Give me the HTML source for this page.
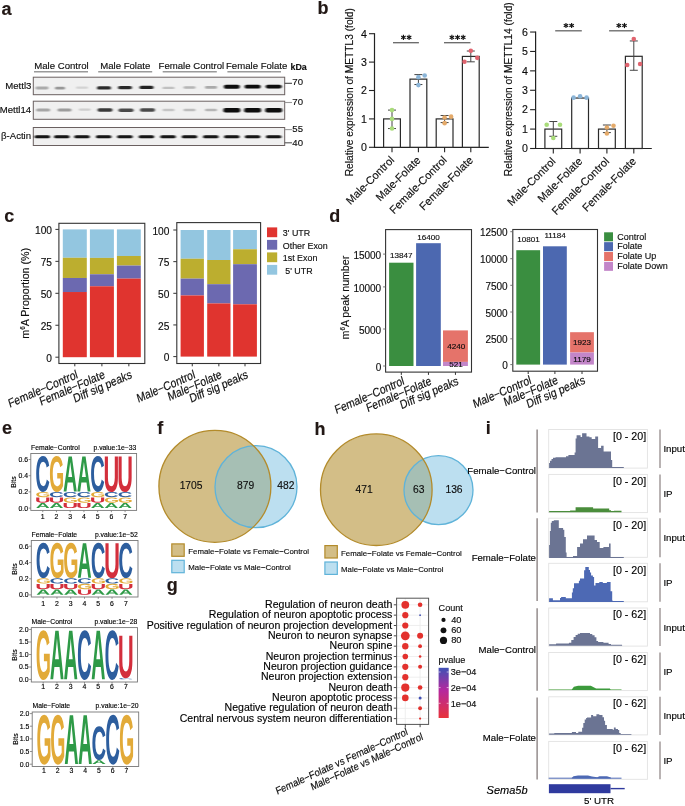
<!DOCTYPE html>
<html><head><meta charset="utf-8"><style>
html,body{margin:0;padding:0;background:#fff;}
svg{display:block;will-change:transform;}
text{font-family:"Liberation Sans", sans-serif;stroke:#000;stroke-width:0.14px;}
</style></head><body>
<svg width="685" height="806" viewBox="0 0 685 806">
<defs><filter id="bl" x="-30%" y="-150%" width="160%" height="400%"><feGaussianBlur stdDeviation="1.0 0.75"/></filter>
<path id="gA" d="M1133 0 1008 360H471L346 0H51L565 1409H913L1425 0ZM739 1192 733 1170Q723 1134 709.0 1088.0Q695 1042 537 582H942L803 987L760 1123Z"/>
<path id="gC" d="M795 212Q1062 212 1166 480L1423 383Q1340 179 1179.5 79.5Q1019 -20 795 -20Q455 -20 269.5 172.5Q84 365 84 711Q84 1058 263.0 1244.0Q442 1430 782 1430Q1030 1430 1186.0 1330.5Q1342 1231 1405 1038L1145 967Q1112 1073 1015.5 1135.5Q919 1198 788 1198Q588 1198 484.5 1074.0Q381 950 381 711Q381 468 487.5 340.0Q594 212 795 212Z"/>
<path id="gG" d="M806 211Q921 211 1029.0 244.5Q1137 278 1196 330V525H852V743H1466V225Q1354 110 1174.5 45.0Q995 -20 798 -20Q454 -20 269.0 170.5Q84 361 84 711Q84 1059 270.0 1244.5Q456 1430 805 1430Q1301 1430 1436 1063L1164 981Q1120 1088 1026.0 1143.0Q932 1198 805 1198Q597 1198 489.0 1072.0Q381 946 381 711Q381 472 492.5 341.5Q604 211 806 211Z"/>
<path id="gU" d="M723 -20Q432 -20 277.5 122.0Q123 264 123 528V1409H418V551Q418 384 497.5 297.5Q577 211 731 211Q889 211 974.0 301.5Q1059 392 1059 561V1409H1354V543Q1354 275 1188.5 127.5Q1023 -20 723 -20Z"/>
<linearGradient id="pv" x1="0" y1="0" x2="0" y2="1"><stop offset="0" stop-color="#3f51b5"/><stop offset="0.45" stop-color="#b5289e"/><stop offset="1" stop-color="#e8323a"/></linearGradient></defs>
<rect width="685" height="806" fill="#fff"/>
<text x="1.5" y="15" font-size="18" text-anchor="start" font-weight="bold" fill="#231815">a</text>
<text x="317.5" y="14.3" font-size="18" text-anchor="start" font-weight="bold" fill="#231815">b</text>
<text x="4.3" y="222.2" font-size="18" text-anchor="start" font-weight="bold" fill="#231815">c</text>
<text x="329.3" y="221.8" font-size="18" text-anchor="start" font-weight="bold" fill="#231815">d</text>
<text x="1.9" y="434.3" font-size="18" text-anchor="start" font-weight="bold" fill="#231815">e</text>
<text x="157.2" y="434.2" font-size="18" text-anchor="start" font-weight="bold" fill="#231815">f</text>
<text x="314.6" y="435.4" font-size="18" text-anchor="start" font-weight="bold" fill="#231815">h</text>
<text x="166.8" y="590.5" font-size="18" text-anchor="start" font-weight="bold" fill="#231815">g</text>
<text x="485.7" y="434.2" font-size="18" text-anchor="start" font-weight="bold" fill="#231815">i</text>
<text x="34.3" y="68.7" font-size="9.6" text-anchor="start" fill="#111">Male Control</text>
<line x1="34" y1="71.8" x2="88" y2="71.8" stroke="#9a9a9a" stroke-width="1.5"/>
<text x="100.2" y="68.7" font-size="9.6" text-anchor="start" fill="#111">Male Folate</text>
<line x1="98.2" y1="71.8" x2="152.2" y2="71.8" stroke="#9a9a9a" stroke-width="1.5"/>
<text x="158.6" y="68.7" font-size="9.6" text-anchor="start" fill="#111">Female Control</text>
<line x1="162.7" y1="71.8" x2="216.8" y2="71.8" stroke="#9a9a9a" stroke-width="1.5"/>
<text x="226" y="68.7" font-size="9.6" text-anchor="start" fill="#111">Female Folate</text>
<line x1="227.4" y1="71.8" x2="281" y2="71.8" stroke="#9a9a9a" stroke-width="1.5"/>
<rect x="33.3" y="77.2" width="251.4" height="17.5" fill="#f0f0f0" stroke="#6a6060" stroke-width="1"/>
<rect x="33.3" y="101.2" width="251.4" height="18.1" fill="#f0f0f0" stroke="#6a6060" stroke-width="1"/>
<rect x="33.3" y="127.5" width="251.4" height="18" fill="#f0f0f0" stroke="#6a6060" stroke-width="1"/>
<g filter="url(#bl)">
<rect x="35.5" y="86.6" width="13" height="2.8" rx="1.4" fill="rgb(170,170,170)"/>
<rect x="55" y="86.8" width="10" height="2.8" rx="1.4" fill="rgb(151,151,151)"/>
<rect x="76" y="86.6" width="12" height="2.2" rx="1.1" fill="rgb(211,211,211)"/>
<rect x="97" y="86.3" width="14" height="3.2" rx="1.6" fill="rgb(44,44,44)"/>
<rect x="118" y="86" width="14" height="3.2" rx="1.6" fill="rgb(44,44,44)"/>
<rect x="139.5" y="85.7" width="14" height="3.4" rx="1.7" fill="rgb(33,33,33)"/>
<rect x="162.5" y="86.7" width="12" height="2.4" rx="1.2" fill="rgb(192,192,192)"/>
<rect x="183.5" y="86.2" width="12" height="2.6" rx="1.3" fill="rgb(181,181,181)"/>
<rect x="205" y="86.1" width="12" height="2.6" rx="1.3" fill="rgb(170,170,170)"/>
<rect x="223.8" y="84.75" width="16" height="3.9" rx="1.95" fill="rgb(10,10,10)"/>
<rect x="244.6" y="84.85" width="16" height="3.7" rx="1.85" fill="rgb(10,10,10)"/>
<rect x="265.7" y="84.65" width="16" height="3.9" rx="1.95" fill="rgb(10,10,10)"/>
<rect x="36.2" y="108.5" width="14" height="3" rx="1.5" fill="rgb(165,165,165)"/>
<rect x="57.5" y="108.5" width="14" height="3" rx="1.5" fill="rgb(156,156,156)"/>
<rect x="78.7" y="108.5" width="12" height="2.2" rx="1.1" fill="rgb(206,206,206)"/>
<rect x="97.5" y="108.2" width="15" height="3.6" rx="1.8" fill="rgb(56,56,56)"/>
<rect x="118.5" y="108.5" width="15" height="3.4" rx="1.7" fill="rgb(74,74,74)"/>
<rect x="140" y="108.3" width="15" height="3.4" rx="1.7" fill="rgb(74,74,74)"/>
<rect x="162.5" y="108.8" width="12" height="2.4" rx="1.2" fill="rgb(197,197,197)"/>
<rect x="183.5" y="108.8" width="12" height="2.4" rx="1.2" fill="rgb(188,188,188)"/>
<rect x="205" y="108.7" width="12" height="2.6" rx="1.3" fill="rgb(181,181,181)"/>
<rect x="223.3" y="108" width="17" height="4.4" rx="2" fill="rgb(10,10,10)"/>
<rect x="244.1" y="107.9" width="17" height="4.6" rx="2" fill="rgb(10,10,10)"/>
<rect x="265.2" y="108" width="17" height="4.4" rx="2" fill="rgb(10,10,10)"/>
<rect x="34.55" y="135.25" width="15.5" height="3.1" rx="1.55" fill="rgb(21,21,21)"/>
<rect x="54.05" y="135.25" width="15.5" height="3.1" rx="1.55" fill="rgb(21,21,21)"/>
<rect x="74.25" y="135.25" width="15.5" height="3.1" rx="1.55" fill="rgb(21,21,21)"/>
<rect x="95.95" y="135.25" width="15.5" height="3.1" rx="1.55" fill="rgb(21,21,21)"/>
<rect x="117.15" y="135.25" width="15.5" height="3.1" rx="1.55" fill="rgb(21,21,21)"/>
<rect x="138.65" y="135.25" width="15.5" height="3.1" rx="1.55" fill="rgb(21,21,21)"/>
<rect x="160.25" y="135.25" width="15.5" height="3.1" rx="1.55" fill="rgb(21,21,21)"/>
<rect x="181.75" y="135.25" width="15.5" height="3.1" rx="1.55" fill="rgb(21,21,21)"/>
<rect x="203.05" y="135.25" width="15.5" height="3.1" rx="1.55" fill="rgb(21,21,21)"/>
<rect x="224.05" y="135.25" width="15.5" height="3.1" rx="1.55" fill="rgb(21,21,21)"/>
<rect x="244.85" y="135.25" width="15.5" height="3.1" rx="1.55" fill="rgb(21,21,21)"/>
<rect x="265.95" y="135.25" width="15.5" height="3.1" rx="1.55" fill="rgb(21,21,21)"/>
</g>
<text x="31.4" y="88.9" font-size="9.6" text-anchor="end" fill="#111">Mettl3</text>
<text x="31.1" y="113.4" font-size="9.6" text-anchor="end" fill="#111">Mettl14</text>
<text x="31.1" y="139.4" font-size="9.6" text-anchor="end" fill="#111">β-Actin</text>
<text x="290.5" y="69.6" font-size="8.9" text-anchor="start" font-weight="bold" fill="#111">kDa</text>
<line x1="284.7" y1="83.3" x2="292" y2="83.3" stroke="#444" stroke-width="1.1"/>
<text x="292.3" y="85.2" font-size="9.6" text-anchor="start" fill="#111">70</text>
<line x1="284.7" y1="102.5" x2="292" y2="102.5" stroke="#999" stroke-width="1.1"/>
<text x="292.3" y="105.2" font-size="9.6" text-anchor="start" fill="#111">70</text>
<line x1="284.7" y1="129.6" x2="292" y2="129.6" stroke="#999" stroke-width="1.1"/>
<text x="292.3" y="132.2" font-size="9.6" text-anchor="start" fill="#111">55</text>
<line x1="284.7" y1="142.8" x2="292" y2="142.8" stroke="#555" stroke-width="1.1"/>
<text x="292.3" y="145.5" font-size="9.6" text-anchor="start" fill="#111">40</text>
<line x1="374.5" y1="33.2" x2="374.5" y2="147.8" stroke="#222" stroke-width="1.2"/>
<line x1="373.9" y1="147.3" x2="488.8" y2="147.3" stroke="#222" stroke-width="1.2"/>
<line x1="369" y1="147.3" x2="374.5" y2="147.3" stroke="#222" stroke-width="1.1"/>
<text x="366.8" y="151.1" font-size="10.6" text-anchor="end" fill="#111">0</text>
<line x1="369" y1="118.9" x2="374.5" y2="118.9" stroke="#222" stroke-width="1.1"/>
<text x="366.8" y="122.7" font-size="10.6" text-anchor="end" fill="#111">1</text>
<line x1="369" y1="90.5" x2="374.5" y2="90.5" stroke="#222" stroke-width="1.1"/>
<text x="366.8" y="94.3" font-size="10.6" text-anchor="end" fill="#111">2</text>
<line x1="369" y1="62.1" x2="374.5" y2="62.1" stroke="#222" stroke-width="1.1"/>
<text x="366.8" y="65.9" font-size="10.6" text-anchor="end" fill="#111">3</text>
<line x1="369" y1="33.7" x2="374.5" y2="33.7" stroke="#222" stroke-width="1.1"/>
<text x="366.8" y="37.5" font-size="10.6" text-anchor="end" fill="#111">4</text>
<rect x="383.6" y="118.9" width="16.8" height="28.4" fill="#fff" stroke="#2a2a2a" stroke-width="1.2"/>
<line x1="392" y1="147.3" x2="392" y2="152.3" stroke="#222" stroke-width="1.1"/>
<rect x="410" y="79.14" width="16.8" height="68.16" fill="#fff" stroke="#2a2a2a" stroke-width="1.2"/>
<line x1="418.4" y1="147.3" x2="418.4" y2="152.3" stroke="#222" stroke-width="1.1"/>
<rect x="436.2" y="118.9" width="16.8" height="28.4" fill="#fff" stroke="#2a2a2a" stroke-width="1.2"/>
<line x1="444.6" y1="147.3" x2="444.6" y2="152.3" stroke="#222" stroke-width="1.1"/>
<rect x="462.4" y="56.42" width="16.8" height="90.88" fill="#fff" stroke="#2a2a2a" stroke-width="1.2"/>
<line x1="470.8" y1="147.3" x2="470.8" y2="152.3" stroke="#222" stroke-width="1.1"/>
<line x1="392" y1="128.556" x2="392" y2="110.096" stroke="#444" stroke-width="1"/>
<line x1="388" y1="128.556" x2="396" y2="128.556" stroke="#444" stroke-width="1"/>
<line x1="388" y1="110.096" x2="396" y2="110.096" stroke="#444" stroke-width="1"/>
<circle cx="392" cy="110.096" r="2.3" fill="#a9dc7a"/>
<circle cx="392" cy="118.9" r="2.3" fill="#a9dc7a"/>
<circle cx="392" cy="128.556" r="2.3" fill="#a9dc7a"/>
<line x1="418.4" y1="84.536" x2="418.4" y2="74.596" stroke="#444" stroke-width="1"/>
<line x1="414.4" y1="84.536" x2="422.4" y2="84.536" stroke="#444" stroke-width="1"/>
<line x1="414.4" y1="74.596" x2="422.4" y2="74.596" stroke="#444" stroke-width="1"/>
<circle cx="418.4" cy="77.152" r="2.3" fill="#8bb5d8"/>
<circle cx="424.7" cy="75.448" r="2.3" fill="#8bb5d8"/>
<circle cx="418.4" cy="85.104" r="2.3" fill="#8bb5d8"/>
<line x1="444.6" y1="122.592" x2="444.6" y2="115.492" stroke="#444" stroke-width="1"/>
<line x1="440.6" y1="122.592" x2="448.6" y2="122.592" stroke="#444" stroke-width="1"/>
<line x1="440.6" y1="115.492" x2="448.6" y2="115.492" stroke="#444" stroke-width="1"/>
<circle cx="444.6" cy="117.48" r="2.3" fill="#e4aa6a"/>
<circle cx="451.1" cy="116.628" r="2.3" fill="#e4aa6a"/>
<circle cx="444.6" cy="123.16" r="2.3" fill="#e4aa6a"/>
<line x1="470.8" y1="61.816" x2="470.8" y2="51.024" stroke="#444" stroke-width="1"/>
<line x1="466.8" y1="61.816" x2="474.8" y2="61.816" stroke="#444" stroke-width="1"/>
<line x1="466.8" y1="51.024" x2="474.8" y2="51.024" stroke="#444" stroke-width="1"/>
<circle cx="470.8" cy="50.74" r="2.3" fill="#e0646f"/>
<circle cx="477.3" cy="57.84" r="2.3" fill="#e0646f"/>
<circle cx="464.5" cy="61.816" r="2.3" fill="#e0646f"/>
<line x1="393" y1="42.7" x2="418.9" y2="42.7" stroke="#666" stroke-width="1.3"/>
<line x1="403.425" y1="34.8" x2="403.425" y2="40" stroke="#111" stroke-width="1.15"/>
<line x1="401.173" y1="36.1" x2="405.677" y2="38.7" stroke="#111" stroke-width="1.15"/>
<line x1="401.173" y1="38.7" x2="405.677" y2="36.1" stroke="#111" stroke-width="1.15"/>
<line x1="409.075" y1="34.8" x2="409.075" y2="40" stroke="#111" stroke-width="1.15"/>
<line x1="406.823" y1="36.1" x2="411.327" y2="38.7" stroke="#111" stroke-width="1.15"/>
<line x1="406.823" y1="38.7" x2="411.327" y2="36.1" stroke="#111" stroke-width="1.15"/>
<line x1="444" y1="42.7" x2="470.5" y2="42.7" stroke="#666" stroke-width="1.3"/>
<line x1="451.9" y1="34.8" x2="451.9" y2="40" stroke="#111" stroke-width="1.15"/>
<line x1="449.648" y1="36.1" x2="454.152" y2="38.7" stroke="#111" stroke-width="1.15"/>
<line x1="449.648" y1="38.7" x2="454.152" y2="36.1" stroke="#111" stroke-width="1.15"/>
<line x1="457.55" y1="34.8" x2="457.55" y2="40" stroke="#111" stroke-width="1.15"/>
<line x1="455.298" y1="36.1" x2="459.802" y2="38.7" stroke="#111" stroke-width="1.15"/>
<line x1="455.298" y1="38.7" x2="459.802" y2="36.1" stroke="#111" stroke-width="1.15"/>
<line x1="463.2" y1="34.8" x2="463.2" y2="40" stroke="#111" stroke-width="1.15"/>
<line x1="460.948" y1="36.1" x2="465.452" y2="38.7" stroke="#111" stroke-width="1.15"/>
<line x1="460.948" y1="38.7" x2="465.452" y2="36.1" stroke="#111" stroke-width="1.15"/>
<text x="353.4" y="92.2" font-size="10.2" text-anchor="middle" fill="#111" transform="rotate(-90 353.4 92.2)">Relative expression of METTL3 (fold)</text>
<text x="395" y="160.8" font-size="11" text-anchor="end" fill="#111" transform="rotate(-45 395 160.8)">Male-Control</text>
<text x="421.4" y="160.8" font-size="11" text-anchor="end" fill="#111" transform="rotate(-45 421.4 160.8)">Male-Folate</text>
<text x="447.6" y="160.8" font-size="11" text-anchor="end" fill="#111" transform="rotate(-45 447.6 160.8)">Female-Control</text>
<text x="473.8" y="160.8" font-size="11" text-anchor="end" fill="#111" transform="rotate(-45 473.8 160.8)">Female-Folate</text>
<line x1="535.6" y1="31.54" x2="535.6" y2="149" stroke="#222" stroke-width="1.2"/>
<line x1="535" y1="148.5" x2="651.8" y2="148.5" stroke="#222" stroke-width="1.2"/>
<line x1="530.1" y1="148.5" x2="535.6" y2="148.5" stroke="#222" stroke-width="1.1"/>
<text x="527.8" y="152.3" font-size="10.6" text-anchor="end" fill="#111">0</text>
<line x1="530.1" y1="129.09" x2="535.6" y2="129.09" stroke="#222" stroke-width="1.1"/>
<text x="527.8" y="132.89" font-size="10.6" text-anchor="end" fill="#111">1</text>
<line x1="530.1" y1="109.68" x2="535.6" y2="109.68" stroke="#222" stroke-width="1.1"/>
<text x="527.8" y="113.48" font-size="10.6" text-anchor="end" fill="#111">2</text>
<line x1="530.1" y1="90.27" x2="535.6" y2="90.27" stroke="#222" stroke-width="1.1"/>
<text x="527.8" y="94.07" font-size="10.6" text-anchor="end" fill="#111">3</text>
<line x1="530.1" y1="70.86" x2="535.6" y2="70.86" stroke="#222" stroke-width="1.1"/>
<text x="527.8" y="74.66" font-size="10.6" text-anchor="end" fill="#111">4</text>
<line x1="530.1" y1="51.45" x2="535.6" y2="51.45" stroke="#222" stroke-width="1.1"/>
<text x="527.8" y="55.25" font-size="10.6" text-anchor="end" fill="#111">5</text>
<line x1="530.1" y1="32.04" x2="535.6" y2="32.04" stroke="#222" stroke-width="1.1"/>
<text x="527.8" y="35.84" font-size="10.6" text-anchor="end" fill="#111">6</text>
<rect x="544.9" y="129.09" width="16.8" height="19.41" fill="#fff" stroke="#2a2a2a" stroke-width="1.2"/>
<line x1="553.3" y1="148.5" x2="553.3" y2="153.5" stroke="#222" stroke-width="1.1"/>
<rect x="571.7" y="98.034" width="16.8" height="50.466" fill="#fff" stroke="#2a2a2a" stroke-width="1.2"/>
<line x1="580.1" y1="148.5" x2="580.1" y2="153.5" stroke="#222" stroke-width="1.1"/>
<rect x="598.5" y="129.09" width="16.8" height="19.41" fill="#fff" stroke="#2a2a2a" stroke-width="1.2"/>
<line x1="606.9" y1="148.5" x2="606.9" y2="153.5" stroke="#222" stroke-width="1.1"/>
<rect x="625.4" y="56.3025" width="16.8" height="92.1975" fill="#fff" stroke="#2a2a2a" stroke-width="1.2"/>
<line x1="633.8" y1="148.5" x2="633.8" y2="153.5" stroke="#222" stroke-width="1.1"/>
<line x1="553.3" y1="136.272" x2="553.3" y2="121.52" stroke="#444" stroke-width="1"/>
<line x1="549.3" y1="136.272" x2="557.3" y2="136.272" stroke="#444" stroke-width="1"/>
<line x1="549.3" y1="121.52" x2="557.3" y2="121.52" stroke="#444" stroke-width="1"/>
<circle cx="546.7" cy="124.82" r="2.3" fill="#a9dc7a"/>
<circle cx="560" cy="124.82" r="2.3" fill="#a9dc7a"/>
<circle cx="553.3" cy="138.019" r="2.3" fill="#a9dc7a"/>
<circle cx="573.6" cy="97.6458" r="2.3" fill="#8bb5d8"/>
<circle cx="580.1" cy="96.2871" r="2.3" fill="#8bb5d8"/>
<circle cx="586.6" cy="97.6458" r="2.3" fill="#8bb5d8"/>
<line x1="606.9" y1="132.584" x2="606.9" y2="125.014" stroke="#444" stroke-width="1"/>
<line x1="602.9" y1="132.584" x2="610.9" y2="132.584" stroke="#444" stroke-width="1"/>
<line x1="602.9" y1="125.014" x2="610.9" y2="125.014" stroke="#444" stroke-width="1"/>
<circle cx="606.9" cy="127.537" r="2.3" fill="#e4aa6a"/>
<circle cx="613.5" cy="125.79" r="2.3" fill="#e4aa6a"/>
<circle cx="606.9" cy="133.554" r="2.3" fill="#e4aa6a"/>
<line x1="633.8" y1="70.2777" x2="633.8" y2="40.9686" stroke="#444" stroke-width="1"/>
<line x1="629.8" y1="70.2777" x2="637.8" y2="70.2777" stroke="#444" stroke-width="1"/>
<line x1="629.8" y1="40.9686" x2="637.8" y2="40.9686" stroke="#444" stroke-width="1"/>
<circle cx="633.8" cy="39.0276" r="2.3" fill="#e0646f"/>
<circle cx="627.2" cy="65.037" r="2.3" fill="#e0646f"/>
<circle cx="640.1" cy="64.0665" r="2.3" fill="#e0646f"/>
<line x1="555.2" y1="30.8" x2="581.8" y2="30.8" stroke="#666" stroke-width="1.3"/>
<line x1="565.975" y1="22.9" x2="565.975" y2="28.1" stroke="#111" stroke-width="1.15"/>
<line x1="563.723" y1="24.2" x2="568.227" y2="26.8" stroke="#111" stroke-width="1.15"/>
<line x1="563.723" y1="26.8" x2="568.227" y2="24.2" stroke="#111" stroke-width="1.15"/>
<line x1="571.625" y1="22.9" x2="571.625" y2="28.1" stroke="#111" stroke-width="1.15"/>
<line x1="569.373" y1="24.2" x2="573.877" y2="26.8" stroke="#111" stroke-width="1.15"/>
<line x1="569.373" y1="26.8" x2="573.877" y2="24.2" stroke="#111" stroke-width="1.15"/>
<line x1="609.1" y1="30.8" x2="633.6" y2="30.8" stroke="#666" stroke-width="1.3"/>
<line x1="618.825" y1="22.9" x2="618.825" y2="28.1" stroke="#111" stroke-width="1.15"/>
<line x1="616.573" y1="24.2" x2="621.077" y2="26.8" stroke="#111" stroke-width="1.15"/>
<line x1="616.573" y1="26.8" x2="621.077" y2="24.2" stroke="#111" stroke-width="1.15"/>
<line x1="624.475" y1="22.9" x2="624.475" y2="28.1" stroke="#111" stroke-width="1.15"/>
<line x1="622.223" y1="24.2" x2="626.727" y2="26.8" stroke="#111" stroke-width="1.15"/>
<line x1="622.223" y1="26.8" x2="626.727" y2="24.2" stroke="#111" stroke-width="1.15"/>
<text x="511.6" y="89.2" font-size="10.2" text-anchor="middle" fill="#111" transform="rotate(-90 511.6 89.2)">Relative expression of METTL14 (fold)</text>
<text x="556.3" y="162" font-size="11" text-anchor="end" fill="#111" transform="rotate(-45 556.3 162)">Male-Control</text>
<text x="583.1" y="162" font-size="11" text-anchor="end" fill="#111" transform="rotate(-45 583.1 162)">Male-Folate</text>
<text x="609.9" y="162" font-size="11" text-anchor="end" fill="#111" transform="rotate(-45 609.9 162)">Female-Control</text>
<text x="636.8" y="162" font-size="11" text-anchor="end" fill="#111" transform="rotate(-45 636.8 162)">Female-Folate</text>
<rect x="62.8" y="229.4" width="24" height="28.3716" fill="#93c6e0" stroke="none" stroke-width="1"/>
<rect x="62.8" y="257.772" width="24" height="20.1924" fill="#bcae2f" stroke="none" stroke-width="1"/>
<rect x="62.8" y="277.964" width="24" height="14.058" fill="#6c69b0" stroke="none" stroke-width="1"/>
<rect x="62.8" y="292.022" width="24" height="65.178" fill="#e0342f" stroke="none" stroke-width="1"/>
<rect x="89.9" y="229.4" width="24" height="28.4994" fill="#93c6e0" stroke="none" stroke-width="1"/>
<rect x="89.9" y="257.899" width="24" height="16.3584" fill="#bcae2f" stroke="none" stroke-width="1"/>
<rect x="89.9" y="274.258" width="24" height="12.0132" fill="#6c69b0" stroke="none" stroke-width="1"/>
<rect x="89.9" y="286.271" width="24" height="70.929" fill="#e0342f" stroke="none" stroke-width="1"/>
<rect x="116.9" y="229.4" width="23.9" height="26.5824" fill="#93c6e0" stroke="none" stroke-width="1"/>
<rect x="116.9" y="255.982" width="23.9" height="9.585" fill="#bcae2f" stroke="none" stroke-width="1"/>
<rect x="116.9" y="265.567" width="23.9" height="13.0356" fill="#6c69b0" stroke="none" stroke-width="1"/>
<rect x="116.9" y="278.603" width="23.9" height="78.597" fill="#e0342f" stroke="none" stroke-width="1"/>
<rect x="58.9" y="223.3" width="85.9" height="140.2" fill="none" stroke="#333" stroke-width="1.1"/>
<line x1="55.4" y1="357.2" x2="58.9" y2="357.2" stroke="#333" stroke-width="1"/>
<text transform="translate(52 361.9) scale(1 1.12) rotate(0)" font-size="10.2" text-anchor="end" fill="#111">0</text>
<line x1="55.4" y1="325.25" x2="58.9" y2="325.25" stroke="#333" stroke-width="1"/>
<text transform="translate(52 329.95) scale(1 1.12) rotate(0)" font-size="10.2" text-anchor="end" fill="#111">25</text>
<line x1="55.4" y1="293.3" x2="58.9" y2="293.3" stroke="#333" stroke-width="1"/>
<text transform="translate(52 298) scale(1 1.12) rotate(0)" font-size="10.2" text-anchor="end" fill="#111">50</text>
<line x1="55.4" y1="261.35" x2="58.9" y2="261.35" stroke="#333" stroke-width="1"/>
<text transform="translate(52 266.05) scale(1 1.12) rotate(0)" font-size="10.2" text-anchor="end" fill="#111">75</text>
<line x1="55.4" y1="229.4" x2="58.9" y2="229.4" stroke="#333" stroke-width="1"/>
<text transform="translate(52 234.1) scale(1 1.12) rotate(0)" font-size="10.2" text-anchor="end" fill="#111">100</text>
<line x1="74.8" y1="363.5" x2="74.8" y2="366.3" stroke="#333" stroke-width="1"/>
<text transform="translate(78.4 377.7) scale(1 1.2) rotate(-20)" font-size="10.25" text-anchor="end" fill="#111">Female−Control</text>
<line x1="101.9" y1="363.5" x2="101.9" y2="366.3" stroke="#333" stroke-width="1"/>
<text transform="translate(105.5 377.7) scale(1 1.2) rotate(-20)" font-size="10.25" text-anchor="end" fill="#111">Female−Folate</text>
<line x1="128.85" y1="363.5" x2="128.85" y2="366.3" stroke="#333" stroke-width="1"/>
<text transform="translate(132.45 377.7) scale(1 1.2) rotate(-20)" font-size="10.25" text-anchor="end" fill="#111">Diff sig peaks</text>
<rect x="180.6" y="230" width="23.3" height="28.7382" fill="#93c6e0" stroke="none" stroke-width="1"/>
<rect x="180.6" y="258.738" width="23.3" height="19.8762" fill="#bcae2f" stroke="none" stroke-width="1"/>
<rect x="180.6" y="278.614" width="23.3" height="16.8378" fill="#6c69b0" stroke="none" stroke-width="1"/>
<rect x="180.6" y="295.452" width="23.3" height="61.1478" fill="#e0342f" stroke="none" stroke-width="1"/>
<rect x="207.2" y="230" width="23.3" height="30.0042" fill="#93c6e0" stroke="none" stroke-width="1"/>
<rect x="207.2" y="260.004" width="23.3" height="24.1806" fill="#bcae2f" stroke="none" stroke-width="1"/>
<rect x="207.2" y="284.185" width="23.3" height="19.2432" fill="#6c69b0" stroke="none" stroke-width="1"/>
<rect x="207.2" y="303.428" width="23.3" height="53.172" fill="#e0342f" stroke="none" stroke-width="1"/>
<rect x="233.1" y="230" width="23.8" height="19.2432" fill="#93c6e0" stroke="none" stroke-width="1"/>
<rect x="233.1" y="249.243" width="23.8" height="14.9388" fill="#bcae2f" stroke="none" stroke-width="1"/>
<rect x="233.1" y="264.182" width="23.8" height="40.1322" fill="#6c69b0" stroke="none" stroke-width="1"/>
<rect x="233.1" y="304.314" width="23.8" height="52.2858" fill="#e0342f" stroke="none" stroke-width="1"/>
<rect x="176.8" y="222.6" width="83.8" height="140.9" fill="none" stroke="#333" stroke-width="1.1"/>
<line x1="173.3" y1="356.6" x2="176.8" y2="356.6" stroke="#333" stroke-width="1"/>
<text transform="translate(169.4 361.3) scale(1 1.12) rotate(0)" font-size="10.2" text-anchor="end" fill="#111">0</text>
<line x1="173.3" y1="324.95" x2="176.8" y2="324.95" stroke="#333" stroke-width="1"/>
<text transform="translate(169.4 329.65) scale(1 1.12) rotate(0)" font-size="10.2" text-anchor="end" fill="#111">25</text>
<line x1="173.3" y1="293.3" x2="176.8" y2="293.3" stroke="#333" stroke-width="1"/>
<text transform="translate(169.4 298) scale(1 1.12) rotate(0)" font-size="10.2" text-anchor="end" fill="#111">50</text>
<line x1="173.3" y1="261.65" x2="176.8" y2="261.65" stroke="#333" stroke-width="1"/>
<text transform="translate(169.4 266.35) scale(1 1.12) rotate(0)" font-size="10.2" text-anchor="end" fill="#111">75</text>
<line x1="173.3" y1="230" x2="176.8" y2="230" stroke="#333" stroke-width="1"/>
<text transform="translate(169.4 234.7) scale(1 1.12) rotate(0)" font-size="10.2" text-anchor="end" fill="#111">100</text>
<line x1="192.25" y1="363.5" x2="192.25" y2="366.3" stroke="#333" stroke-width="1"/>
<text transform="translate(195.85 377.7) scale(1 1.2) rotate(-20)" font-size="10.25" text-anchor="end" fill="#111">Male−Control</text>
<line x1="218.85" y1="363.5" x2="218.85" y2="366.3" stroke="#333" stroke-width="1"/>
<text transform="translate(222.45 377.7) scale(1 1.2) rotate(-20)" font-size="10.25" text-anchor="end" fill="#111">Male−Folate</text>
<line x1="245" y1="363.5" x2="245" y2="366.3" stroke="#333" stroke-width="1"/>
<text transform="translate(248.6 377.7) scale(1 1.2) rotate(-20)" font-size="10.25" text-anchor="end" fill="#111">Diff sig peaks</text>
<text x="28.6" y="293.3" font-size="10.7" text-anchor="middle" fill="#111" transform="rotate(-90 28.6 293.3)">m<tspan font-size="6.3" dy="-3.7">6</tspan><tspan dy="3.7">A Proportion (%)</tspan></text>
<rect x="267" y="227.4" width="10.2" height="9.8" fill="#e0342f" stroke="none" stroke-width="1"/>
<text x="282.8" y="236" font-size="8.9" text-anchor="start" fill="#111">3' UTR</text>
<rect x="267" y="239.9" width="10.2" height="9.8" fill="#6c69b0" stroke="none" stroke-width="1"/>
<text x="282.8" y="248.5" font-size="8.9" text-anchor="start" fill="#111">Other Exon</text>
<rect x="267" y="252.4" width="10.2" height="9.8" fill="#bcae2f" stroke="none" stroke-width="1"/>
<text x="282.8" y="261" font-size="8.9" text-anchor="start" fill="#111">1st Exon</text>
<rect x="267" y="264.9" width="10.2" height="9.8" fill="#93c6e0" stroke="none" stroke-width="1"/>
<text x="282.8" y="273.5" font-size="8.9" text-anchor="start" fill="#111"> 5' UTR</text>
<rect x="389.1" y="262.7" width="24.4" height="103.3" fill="#3a8e40" stroke="none" stroke-width="1"/>
<rect x="416.1" y="243.2" width="24.7" height="122.8" fill="#4c68b0" stroke="none" stroke-width="1"/>
<rect x="443" y="330.4" width="24.9" height="31.5" fill="#e5736a" stroke="none" stroke-width="1"/>
<rect x="443" y="361.9" width="24.9" height="4.1" fill="#c386c9" stroke="none" stroke-width="1"/>
<rect x="385.6" y="229.6" width="85.9" height="142.5" fill="none" stroke="#333" stroke-width="1.1"/>
<line x1="383.1" y1="254.1" x2="385.6" y2="254.1" stroke="#666" stroke-width="0.9"/>
<text x="381.2" y="258.7" font-size="10" text-anchor="end" fill="#111">15000</text>
<line x1="383.1" y1="286.9" x2="385.6" y2="286.9" stroke="#666" stroke-width="0.9"/>
<text x="381.2" y="291.5" font-size="10" text-anchor="end" fill="#111">10000</text>
<line x1="383.1" y1="329" x2="385.6" y2="329" stroke="#666" stroke-width="0.9"/>
<text x="381.2" y="333.6" font-size="10" text-anchor="end" fill="#111">5000</text>
<line x1="383.1" y1="366" x2="385.6" y2="366" stroke="#666" stroke-width="0.9"/>
<text x="381.2" y="370.6" font-size="10" text-anchor="end" fill="#111">0</text>
<text x="401.3" y="257.8" font-size="8.1" text-anchor="middle" fill="#111">13847</text>
<text x="428.4" y="239.6" font-size="8.1" text-anchor="middle" fill="#111">16400</text>
<text x="456.2" y="349" font-size="8.1" text-anchor="middle" fill="#111">4240</text>
<text x="456" y="366.7" font-size="8.1" text-anchor="middle" fill="#111">521</text>
<line x1="401.3" y1="372.1" x2="401.3" y2="374.9" stroke="#333" stroke-width="1"/>
<text transform="translate(405 384.1) scale(1 1.2) rotate(-20)" font-size="10.25" text-anchor="end" fill="#111">Female−Control</text>
<line x1="428.45" y1="372.1" x2="428.45" y2="374.9" stroke="#333" stroke-width="1"/>
<text transform="translate(432.15 384.1) scale(1 1.2) rotate(-20)" font-size="10.25" text-anchor="end" fill="#111">Female−Folate</text>
<line x1="455.45" y1="372.1" x2="455.45" y2="374.9" stroke="#333" stroke-width="1"/>
<text transform="translate(459.15 384.1) scale(1 1.2) rotate(-20)" font-size="10.25" text-anchor="end" fill="#111">Diff sig peaks</text>
<rect x="516.3" y="250.2" width="23.8" height="114.4" fill="#3a8e40" stroke="none" stroke-width="1"/>
<rect x="543" y="246.3" width="23.8" height="118.3" fill="#4c68b0" stroke="none" stroke-width="1"/>
<rect x="570.1" y="332.2" width="23.8" height="20.3" fill="#e5736a" stroke="none" stroke-width="1"/>
<rect x="570.1" y="352.5" width="23.8" height="12.1" fill="#c386c9" stroke="none" stroke-width="1"/>
<rect x="512.8" y="229.5" width="84.7" height="141.7" fill="none" stroke="#333" stroke-width="1.1"/>
<line x1="510.3" y1="231.7" x2="512.8" y2="231.7" stroke="#666" stroke-width="0.9"/>
<text x="507.7" y="236.3" font-size="10" text-anchor="end" fill="#111">12500</text>
<line x1="510.3" y1="258.7" x2="512.8" y2="258.7" stroke="#666" stroke-width="0.9"/>
<text x="507.7" y="263.3" font-size="10" text-anchor="end" fill="#111">10000</text>
<line x1="510.3" y1="285.3" x2="512.8" y2="285.3" stroke="#666" stroke-width="0.9"/>
<text x="507.7" y="289.9" font-size="10" text-anchor="end" fill="#111">7500</text>
<line x1="510.3" y1="312" x2="512.8" y2="312" stroke="#666" stroke-width="0.9"/>
<text x="507.7" y="316.6" font-size="10" text-anchor="end" fill="#111">5000</text>
<line x1="510.3" y1="338.8" x2="512.8" y2="338.8" stroke="#666" stroke-width="0.9"/>
<text x="507.7" y="343.4" font-size="10" text-anchor="end" fill="#111">2500</text>
<line x1="510.3" y1="364.6" x2="512.8" y2="364.6" stroke="#666" stroke-width="0.9"/>
<text x="507.7" y="369.2" font-size="10" text-anchor="end" fill="#111">0</text>
<text x="528.4" y="242.2" font-size="8.1" text-anchor="middle" fill="#111">10801</text>
<text x="555.1" y="238.2" font-size="8.1" text-anchor="middle" fill="#111">11184</text>
<text x="582" y="344.9" font-size="8.1" text-anchor="middle" fill="#111">1923</text>
<text x="582" y="361.7" font-size="8.1" text-anchor="middle" fill="#111">1179</text>
<line x1="528.2" y1="371.2" x2="528.2" y2="374" stroke="#333" stroke-width="1"/>
<text transform="translate(531.9 383.2) scale(1 1.2) rotate(-20)" font-size="10.25" text-anchor="end" fill="#111">Male−Control</text>
<line x1="554.9" y1="371.2" x2="554.9" y2="374" stroke="#333" stroke-width="1"/>
<text transform="translate(558.6 383.2) scale(1 1.2) rotate(-20)" font-size="10.25" text-anchor="end" fill="#111">Male−Folate</text>
<line x1="582" y1="371.2" x2="582" y2="374" stroke="#333" stroke-width="1"/>
<text transform="translate(585.7 383.2) scale(1 1.2) rotate(-20)" font-size="10.25" text-anchor="end" fill="#111">Diff sig peaks</text>
<text x="348.6" y="297.6" font-size="10.6" text-anchor="middle" fill="#111" transform="rotate(-90 348.6 297.6)">m<tspan font-size="6.3" dy="-3.7">6</tspan><tspan dy="3.7">A peak number</tspan></text>
<rect x="604.1" y="232.3" width="8.9" height="9" fill="#3a8e40" stroke="none" stroke-width="1"/>
<text x="617.3" y="239.5" font-size="9" text-anchor="start" fill="#111">Control</text>
<rect x="604.1" y="242.15" width="8.9" height="9" fill="#4c68b0" stroke="none" stroke-width="1"/>
<text x="617.3" y="249.35" font-size="9" text-anchor="start" fill="#111">Folate</text>
<rect x="604.1" y="252" width="8.9" height="9" fill="#e5736a" stroke="none" stroke-width="1"/>
<text x="617.3" y="259.2" font-size="9" text-anchor="start" fill="#111">Folate Up</text>
<rect x="604.1" y="261.85" width="8.9" height="9" fill="#c386c9" stroke="none" stroke-width="1"/>
<text x="617.3" y="269.05" font-size="9" text-anchor="start" fill="#111">Folate Down</text>
<text x="31.1" y="449.5" font-size="6.8" text-anchor="start" fill="#000" stroke="#000" stroke-width="0.12">Female−Control</text>
<text x="136.4" y="449.5" font-size="6.8" text-anchor="end" fill="#000" stroke="#000" stroke-width="0.12">p.value:1e−33</text>
<use href="#gC" fill="#2d5e9e" transform="matrix(0.00980 0 0 -0.02490 35.377 491.568)"/>
<use href="#gG" fill="#e2aa38" transform="matrix(0.00949 0 0 -0.00354 35.403 497.062)"/>
<use href="#gU" fill="#d32f3c" transform="matrix(0.01066 0 0 -0.00354 34.889 502.556)"/>
<use href="#gA" fill="#2e9a47" transform="matrix(0.00955 0 0 -0.00354 35.713 508.050)"/>
<use href="#gG" fill="#e2aa38" transform="matrix(0.00949 0 0 -0.02490 49.123 491.568)"/>
<use href="#gC" fill="#2d5e9e" transform="matrix(0.00980 0 0 -0.00354 49.097 497.062)"/>
<use href="#gU" fill="#d32f3c" transform="matrix(0.01066 0 0 -0.00354 48.609 502.556)"/>
<use href="#gA" fill="#2e9a47" transform="matrix(0.00955 0 0 -0.00354 49.433 508.050)"/>
<use href="#gA" fill="#2e9a47" transform="matrix(0.00955 0 0 -0.02490 63.153 491.568)"/>
<use href="#gC" fill="#2d5e9e" transform="matrix(0.00980 0 0 -0.00354 62.817 497.062)"/>
<use href="#gG" fill="#e2aa38" transform="matrix(0.00949 0 0 -0.00354 62.843 502.556)"/>
<use href="#gU" fill="#d32f3c" transform="matrix(0.01066 0 0 -0.00354 62.329 508.050)"/>
<use href="#gA" fill="#2e9a47" transform="matrix(0.00955 0 0 -0.02490 76.873 491.568)"/>
<use href="#gC" fill="#2d5e9e" transform="matrix(0.00980 0 0 -0.00354 76.537 497.062)"/>
<use href="#gG" fill="#e2aa38" transform="matrix(0.00949 0 0 -0.00354 76.563 502.556)"/>
<use href="#gU" fill="#d32f3c" transform="matrix(0.01066 0 0 -0.00354 76.049 508.050)"/>
<use href="#gC" fill="#2d5e9e" transform="matrix(0.00980 0 0 -0.02490 90.257 491.568)"/>
<use href="#gG" fill="#e2aa38" transform="matrix(0.00949 0 0 -0.00354 90.283 497.062)"/>
<use href="#gU" fill="#d32f3c" transform="matrix(0.01066 0 0 -0.00354 89.769 502.556)"/>
<use href="#gA" fill="#2e9a47" transform="matrix(0.00955 0 0 -0.00354 90.593 508.050)"/>
<use href="#gU" fill="#d32f3c" transform="matrix(0.01066 0 0 -0.02490 103.489 491.568)"/>
<use href="#gC" fill="#2d5e9e" transform="matrix(0.00980 0 0 -0.00354 103.977 497.062)"/>
<use href="#gG" fill="#e2aa38" transform="matrix(0.00949 0 0 -0.00354 104.003 502.556)"/>
<use href="#gA" fill="#2e9a47" transform="matrix(0.00955 0 0 -0.00354 104.313 508.050)"/>
<use href="#gU" fill="#d32f3c" transform="matrix(0.01066 0 0 -0.02490 117.209 491.568)"/>
<use href="#gC" fill="#2d5e9e" transform="matrix(0.00980 0 0 -0.00354 117.697 497.062)"/>
<use href="#gG" fill="#e2aa38" transform="matrix(0.00949 0 0 -0.00354 117.723 502.556)"/>
<use href="#gA" fill="#2e9a47" transform="matrix(0.00955 0 0 -0.00354 118.033 508.050)"/>
<rect x="30.8" y="453.5" width="105.8" height="56.9" fill="none" stroke="#777" stroke-width="0.9"/>
<line x1="28.6" y1="459.5" x2="30.8" y2="459.5" stroke="#777" stroke-width="0.8"/>
<text x="28" y="461.9" font-size="6.9" text-anchor="end" fill="#000" stroke="#000" stroke-width="0.12">0.6</text>
<line x1="28.6" y1="475.7" x2="30.8" y2="475.7" stroke="#777" stroke-width="0.8"/>
<text x="28" y="478.1" font-size="6.9" text-anchor="end" fill="#000" stroke="#000" stroke-width="0.12">0.4</text>
<line x1="28.6" y1="491.9" x2="30.8" y2="491.9" stroke="#777" stroke-width="0.8"/>
<text x="28" y="494.3" font-size="6.9" text-anchor="end" fill="#000" stroke="#000" stroke-width="0.12">0.2</text>
<line x1="28.6" y1="508.1" x2="30.8" y2="508.1" stroke="#777" stroke-width="0.8"/>
<text x="28" y="510.5" font-size="6.9" text-anchor="end" fill="#000" stroke="#000" stroke-width="0.12">0.0</text>
<text x="16.2" y="482" font-size="6.8" text-anchor="middle" fill="#000" transform="rotate(-90 16.2 482)" stroke="#000" stroke-width="0.12">Bits</text>
<line x1="42.76" y1="510.4" x2="42.76" y2="512.2" stroke="#777" stroke-width="0.8"/>
<text x="42.76" y="518.6" font-size="6.9" text-anchor="middle" fill="#000" stroke="#000" stroke-width="0.12">1</text>
<line x1="56.48" y1="510.4" x2="56.48" y2="512.2" stroke="#777" stroke-width="0.8"/>
<text x="56.48" y="518.6" font-size="6.9" text-anchor="middle" fill="#000" stroke="#000" stroke-width="0.12">2</text>
<line x1="70.2" y1="510.4" x2="70.2" y2="512.2" stroke="#777" stroke-width="0.8"/>
<text x="70.2" y="518.6" font-size="6.9" text-anchor="middle" fill="#000" stroke="#000" stroke-width="0.12">3</text>
<line x1="83.92" y1="510.4" x2="83.92" y2="512.2" stroke="#777" stroke-width="0.8"/>
<text x="83.92" y="518.6" font-size="6.9" text-anchor="middle" fill="#000" stroke="#000" stroke-width="0.12">4</text>
<line x1="97.64" y1="510.4" x2="97.64" y2="512.2" stroke="#777" stroke-width="0.8"/>
<text x="97.64" y="518.6" font-size="6.9" text-anchor="middle" fill="#000" stroke="#000" stroke-width="0.12">5</text>
<line x1="111.36" y1="510.4" x2="111.36" y2="512.2" stroke="#777" stroke-width="0.8"/>
<text x="111.36" y="518.6" font-size="6.9" text-anchor="middle" fill="#000" stroke="#000" stroke-width="0.12">6</text>
<line x1="125.08" y1="510.4" x2="125.08" y2="512.2" stroke="#777" stroke-width="0.8"/>
<text x="125.08" y="518.6" font-size="6.9" text-anchor="middle" fill="#000" stroke="#000" stroke-width="0.12">7</text>
<text x="31.6" y="536.5" font-size="6.8" text-anchor="start" fill="#000" stroke="#000" stroke-width="0.12">Female−Folate</text>
<text x="137.8" y="536.5" font-size="6.8" text-anchor="end" fill="#000" stroke="#000" stroke-width="0.12">p.value:1e−52</text>
<use href="#gC" fill="#2d5e9e" transform="matrix(0.00984 0 0 -0.02448 35.774 577.771)"/>
<use href="#gG" fill="#e2aa38" transform="matrix(0.00953 0 0 -0.00366 35.800 583.431)"/>
<use href="#gU" fill="#d32f3c" transform="matrix(0.01070 0 0 -0.00366 35.284 589.090)"/>
<use href="#gA" fill="#2e9a47" transform="matrix(0.00959 0 0 -0.00366 36.111 594.750)"/>
<use href="#gG" fill="#e2aa38" transform="matrix(0.00953 0 0 -0.02448 49.570 577.771)"/>
<use href="#gC" fill="#2d5e9e" transform="matrix(0.00984 0 0 -0.00366 49.544 583.431)"/>
<use href="#gU" fill="#d32f3c" transform="matrix(0.01070 0 0 -0.00366 49.054 589.090)"/>
<use href="#gA" fill="#2e9a47" transform="matrix(0.00959 0 0 -0.00366 49.881 594.750)"/>
<use href="#gG" fill="#e2aa38" transform="matrix(0.00953 0 0 -0.02448 63.340 577.771)"/>
<use href="#gC" fill="#2d5e9e" transform="matrix(0.00984 0 0 -0.00366 63.314 583.431)"/>
<use href="#gU" fill="#d32f3c" transform="matrix(0.01070 0 0 -0.00366 62.824 589.090)"/>
<use href="#gA" fill="#2e9a47" transform="matrix(0.00959 0 0 -0.00366 63.651 594.750)"/>
<use href="#gA" fill="#2e9a47" transform="matrix(0.00959 0 0 -0.02448 77.421 577.771)"/>
<use href="#gC" fill="#2d5e9e" transform="matrix(0.00984 0 0 -0.00366 77.084 583.431)"/>
<use href="#gG" fill="#e2aa38" transform="matrix(0.00953 0 0 -0.00366 77.110 589.090)"/>
<use href="#gU" fill="#d32f3c" transform="matrix(0.01070 0 0 -0.00366 76.594 594.750)"/>
<use href="#gC" fill="#2d5e9e" transform="matrix(0.00984 0 0 -0.02448 90.854 577.771)"/>
<use href="#gG" fill="#e2aa38" transform="matrix(0.00953 0 0 -0.00366 90.880 583.431)"/>
<use href="#gU" fill="#d32f3c" transform="matrix(0.01070 0 0 -0.00366 90.364 589.090)"/>
<use href="#gA" fill="#2e9a47" transform="matrix(0.00959 0 0 -0.00366 91.191 594.750)"/>
<use href="#gU" fill="#d32f3c" transform="matrix(0.01070 0 0 -0.02448 104.134 577.771)"/>
<use href="#gC" fill="#2d5e9e" transform="matrix(0.00984 0 0 -0.00366 104.624 583.431)"/>
<use href="#gG" fill="#e2aa38" transform="matrix(0.00953 0 0 -0.00366 104.650 589.090)"/>
<use href="#gA" fill="#2e9a47" transform="matrix(0.00959 0 0 -0.00366 104.961 594.750)"/>
<use href="#gC" fill="#2d5e9e" transform="matrix(0.00984 0 0 -0.02448 118.394 577.771)"/>
<use href="#gG" fill="#e2aa38" transform="matrix(0.00953 0 0 -0.00366 118.420 583.431)"/>
<use href="#gU" fill="#d32f3c" transform="matrix(0.01070 0 0 -0.00366 117.904 589.090)"/>
<use href="#gA" fill="#2e9a47" transform="matrix(0.00959 0 0 -0.00366 118.731 594.750)"/>
<rect x="31.3" y="540.5" width="106.7" height="56.5" fill="none" stroke="#777" stroke-width="0.9"/>
<line x1="29.1" y1="546.2" x2="31.3" y2="546.2" stroke="#777" stroke-width="0.8"/>
<text x="28.5" y="548.6" font-size="6.9" text-anchor="end" fill="#000" stroke="#000" stroke-width="0.12">0.6</text>
<line x1="29.1" y1="562.6" x2="31.3" y2="562.6" stroke="#777" stroke-width="0.8"/>
<text x="28.5" y="565" font-size="6.9" text-anchor="end" fill="#000" stroke="#000" stroke-width="0.12">0.4</text>
<line x1="29.1" y1="578.8" x2="31.3" y2="578.8" stroke="#777" stroke-width="0.8"/>
<text x="28.5" y="581.2" font-size="6.9" text-anchor="end" fill="#000" stroke="#000" stroke-width="0.12">0.2</text>
<line x1="29.1" y1="594.9" x2="31.3" y2="594.9" stroke="#777" stroke-width="0.8"/>
<text x="28.5" y="597.3" font-size="6.9" text-anchor="end" fill="#000" stroke="#000" stroke-width="0.12">0.0</text>
<text x="16.7" y="569" font-size="6.8" text-anchor="middle" fill="#000" transform="rotate(-90 16.7 569)" stroke="#000" stroke-width="0.12">Bits</text>
<line x1="43.185" y1="597" x2="43.185" y2="598.8" stroke="#777" stroke-width="0.8"/>
<text x="43.185" y="605.6" font-size="6.9" text-anchor="middle" fill="#000" stroke="#000" stroke-width="0.12">1</text>
<line x1="56.955" y1="597" x2="56.955" y2="598.8" stroke="#777" stroke-width="0.8"/>
<text x="56.955" y="605.6" font-size="6.9" text-anchor="middle" fill="#000" stroke="#000" stroke-width="0.12">2</text>
<line x1="70.725" y1="597" x2="70.725" y2="598.8" stroke="#777" stroke-width="0.8"/>
<text x="70.725" y="605.6" font-size="6.9" text-anchor="middle" fill="#000" stroke="#000" stroke-width="0.12">3</text>
<line x1="84.495" y1="597" x2="84.495" y2="598.8" stroke="#777" stroke-width="0.8"/>
<text x="84.495" y="605.6" font-size="6.9" text-anchor="middle" fill="#000" stroke="#000" stroke-width="0.12">4</text>
<line x1="98.265" y1="597" x2="98.265" y2="598.8" stroke="#777" stroke-width="0.8"/>
<text x="98.265" y="605.6" font-size="6.9" text-anchor="middle" fill="#000" stroke="#000" stroke-width="0.12">5</text>
<line x1="112.035" y1="597" x2="112.035" y2="598.8" stroke="#777" stroke-width="0.8"/>
<text x="112.035" y="605.6" font-size="6.9" text-anchor="middle" fill="#000" stroke="#000" stroke-width="0.12">6</text>
<line x1="125.805" y1="597" x2="125.805" y2="598.8" stroke="#777" stroke-width="0.8"/>
<text x="125.805" y="605.6" font-size="6.9" text-anchor="middle" fill="#000" stroke="#000" stroke-width="0.12">7</text>
<text x="31.6" y="623.6" font-size="6.8" text-anchor="start" fill="#000" stroke="#000" stroke-width="0.12">Male−Control</text>
<text x="137.3" y="623.6" font-size="6.8" text-anchor="end" fill="#000" stroke="#000" stroke-width="0.12">p.value:1e−28</text>
<use href="#gG" fill="#e2aa38" transform="matrix(0.00953 0 0 -0.03442 35.800 679.350)"/>
<use href="#gA" fill="#2e9a47" transform="matrix(0.00959 0 0 -0.03442 49.881 679.350)"/>
<use href="#gA" fill="#2e9a47" transform="matrix(0.00959 0 0 -0.03442 63.651 679.350)"/>
<use href="#gC" fill="#2d5e9e" transform="matrix(0.00984 0 0 -0.03442 77.084 679.350)"/>
<use href="#gA" fill="#2e9a47" transform="matrix(0.00959 0 0 -0.03442 91.191 679.350)"/>
<use href="#gC" fill="#2d5e9e" transform="matrix(0.00984 0 0 -0.03442 104.624 679.350)"/>
<use href="#gU" fill="#d32f3c" transform="matrix(0.01070 0 0 -0.02981 117.904 677.725)"/>
<use href="#gC" fill="#2d5e9e" transform="matrix(0.00984 0 0 -0.00080 118.394 679.350)"/>
<rect x="31.3" y="627.6" width="106.2" height="54.4" fill="none" stroke="#777" stroke-width="0.9"/>
<line x1="29.1" y1="629.5" x2="31.3" y2="629.5" stroke="#777" stroke-width="0.8"/>
<text x="28.5" y="631.9" font-size="6.9" text-anchor="end" fill="#000" stroke="#000" stroke-width="0.12">2.0</text>
<line x1="29.1" y1="642" x2="31.3" y2="642" stroke="#777" stroke-width="0.8"/>
<text x="28.5" y="644.4" font-size="6.9" text-anchor="end" fill="#000" stroke="#000" stroke-width="0.12">1.5</text>
<line x1="29.1" y1="654.5" x2="31.3" y2="654.5" stroke="#777" stroke-width="0.8"/>
<text x="28.5" y="656.9" font-size="6.9" text-anchor="end" fill="#000" stroke="#000" stroke-width="0.12">1.0</text>
<line x1="29.1" y1="667" x2="31.3" y2="667" stroke="#777" stroke-width="0.8"/>
<text x="28.5" y="669.4" font-size="6.9" text-anchor="end" fill="#000" stroke="#000" stroke-width="0.12">0.5</text>
<line x1="29.1" y1="679.4" x2="31.3" y2="679.4" stroke="#777" stroke-width="0.8"/>
<text x="28.5" y="681.8" font-size="6.9" text-anchor="end" fill="#000" stroke="#000" stroke-width="0.12">0.0</text>
<text x="16.7" y="655" font-size="6.8" text-anchor="middle" fill="#000" transform="rotate(-90 16.7 655)" stroke="#000" stroke-width="0.12">Bits</text>
<line x1="43.185" y1="682" x2="43.185" y2="683.8" stroke="#777" stroke-width="0.8"/>
<text x="43.185" y="688.6" font-size="6.9" text-anchor="middle" fill="#000" stroke="#000" stroke-width="0.12">1</text>
<line x1="56.955" y1="682" x2="56.955" y2="683.8" stroke="#777" stroke-width="0.8"/>
<text x="56.955" y="688.6" font-size="6.9" text-anchor="middle" fill="#000" stroke="#000" stroke-width="0.12">2</text>
<line x1="70.725" y1="682" x2="70.725" y2="683.8" stroke="#777" stroke-width="0.8"/>
<text x="70.725" y="688.6" font-size="6.9" text-anchor="middle" fill="#000" stroke="#000" stroke-width="0.12">3</text>
<line x1="84.495" y1="682" x2="84.495" y2="683.8" stroke="#777" stroke-width="0.8"/>
<text x="84.495" y="688.6" font-size="6.9" text-anchor="middle" fill="#000" stroke="#000" stroke-width="0.12">4</text>
<line x1="98.265" y1="682" x2="98.265" y2="683.8" stroke="#777" stroke-width="0.8"/>
<text x="98.265" y="688.6" font-size="6.9" text-anchor="middle" fill="#000" stroke="#000" stroke-width="0.12">5</text>
<line x1="112.035" y1="682" x2="112.035" y2="683.8" stroke="#777" stroke-width="0.8"/>
<text x="112.035" y="688.6" font-size="6.9" text-anchor="middle" fill="#000" stroke="#000" stroke-width="0.12">6</text>
<line x1="125.805" y1="682" x2="125.805" y2="683.8" stroke="#777" stroke-width="0.8"/>
<text x="125.805" y="688.6" font-size="6.9" text-anchor="middle" fill="#000" stroke="#000" stroke-width="0.12">7</text>
<text x="32.5" y="708" font-size="6.8" text-anchor="start" fill="#000" stroke="#000" stroke-width="0.12">Male−Folate</text>
<text x="138.5" y="708" font-size="6.8" text-anchor="end" fill="#000" stroke="#000" stroke-width="0.12">p.value:1e−20</text>
<use href="#gG" fill="#e2aa38" transform="matrix(0.00953 0 0 -0.03448 36.500 763.950)"/>
<use href="#gG" fill="#e2aa38" transform="matrix(0.00953 0 0 -0.03448 50.270 763.950)"/>
<use href="#gA" fill="#2e9a47" transform="matrix(0.00959 0 0 -0.03448 64.351 763.950)"/>
<use href="#gA" fill="#2e9a47" transform="matrix(0.00959 0 0 -0.03448 78.121 763.950)"/>
<use href="#gC" fill="#2d5e9e" transform="matrix(0.00984 0 0 -0.02328 91.554 759.649)"/>
<use href="#gA" fill="#2e9a47" transform="matrix(0.00959 0 0 -0.00270 91.891 763.950)"/>
<use href="#gC" fill="#2d5e9e" transform="matrix(0.00984 0 0 -0.03448 105.324 763.950)"/>
<use href="#gG" fill="#e2aa38" transform="matrix(0.00953 0 0 -0.03448 119.120 763.950)"/>
<rect x="32.2" y="712" width="106.5" height="54.5" fill="none" stroke="#777" stroke-width="0.9"/>
<line x1="30" y1="713.6" x2="32.2" y2="713.6" stroke="#777" stroke-width="0.8"/>
<text x="29.4" y="716" font-size="6.9" text-anchor="end" fill="#000" stroke="#000" stroke-width="0.12">2.0</text>
<line x1="30" y1="726.2" x2="32.2" y2="726.2" stroke="#777" stroke-width="0.8"/>
<text x="29.4" y="728.6" font-size="6.9" text-anchor="end" fill="#000" stroke="#000" stroke-width="0.12">1.5</text>
<line x1="30" y1="738.9" x2="32.2" y2="738.9" stroke="#777" stroke-width="0.8"/>
<text x="29.4" y="741.3" font-size="6.9" text-anchor="end" fill="#000" stroke="#000" stroke-width="0.12">1.0</text>
<line x1="30" y1="751.5" x2="32.2" y2="751.5" stroke="#777" stroke-width="0.8"/>
<text x="29.4" y="753.9" font-size="6.9" text-anchor="end" fill="#000" stroke="#000" stroke-width="0.12">0.5</text>
<line x1="30" y1="764.2" x2="32.2" y2="764.2" stroke="#777" stroke-width="0.8"/>
<text x="29.4" y="766.6" font-size="6.9" text-anchor="end" fill="#000" stroke="#000" stroke-width="0.12">0.0</text>
<text x="17.6" y="739" font-size="6.8" text-anchor="middle" fill="#000" transform="rotate(-90 17.6 739)" stroke="#000" stroke-width="0.12">Bits</text>
<line x1="43.885" y1="766.5" x2="43.885" y2="768.3" stroke="#777" stroke-width="0.8"/>
<text x="43.885" y="773.2" font-size="6.9" text-anchor="middle" fill="#000" stroke="#000" stroke-width="0.12">1</text>
<line x1="57.655" y1="766.5" x2="57.655" y2="768.3" stroke="#777" stroke-width="0.8"/>
<text x="57.655" y="773.2" font-size="6.9" text-anchor="middle" fill="#000" stroke="#000" stroke-width="0.12">2</text>
<line x1="71.425" y1="766.5" x2="71.425" y2="768.3" stroke="#777" stroke-width="0.8"/>
<text x="71.425" y="773.2" font-size="6.9" text-anchor="middle" fill="#000" stroke="#000" stroke-width="0.12">3</text>
<line x1="85.195" y1="766.5" x2="85.195" y2="768.3" stroke="#777" stroke-width="0.8"/>
<text x="85.195" y="773.2" font-size="6.9" text-anchor="middle" fill="#000" stroke="#000" stroke-width="0.12">4</text>
<line x1="98.965" y1="766.5" x2="98.965" y2="768.3" stroke="#777" stroke-width="0.8"/>
<text x="98.965" y="773.2" font-size="6.9" text-anchor="middle" fill="#000" stroke="#000" stroke-width="0.12">5</text>
<line x1="112.735" y1="766.5" x2="112.735" y2="768.3" stroke="#777" stroke-width="0.8"/>
<text x="112.735" y="773.2" font-size="6.9" text-anchor="middle" fill="#000" stroke="#000" stroke-width="0.12">6</text>
<line x1="126.505" y1="766.5" x2="126.505" y2="768.3" stroke="#777" stroke-width="0.8"/>
<text x="126.505" y="773.2" font-size="6.9" text-anchor="middle" fill="#000" stroke="#000" stroke-width="0.12">7</text>
<circle cx="214.9" cy="486.3" r="56" fill="#d3be87"/>
<circle cx="256" cy="486.7" r="41" fill="#79bfe1" fill-opacity="0.5" stroke="#5fb3d9" stroke-width="1.3"/>
<circle cx="214.9" cy="486.3" r="56" fill="none" stroke="#b38b2b" stroke-width="1.3"/>
<text x="191.1" y="489.3" font-size="10.3" text-anchor="middle" fill="#111">1705</text>
<text x="245.6" y="489.3" font-size="10.3" text-anchor="middle" fill="#111">879</text>
<text x="285.8" y="489.3" font-size="10.3" text-anchor="middle" fill="#111">482</text>
<rect x="171.8" y="543.9" width="12.4" height="12.4" fill="#d3be87" stroke="#b38b2b" stroke-width="1.2"/>
<rect x="171.8" y="560.3" width="12.4" height="12.4" fill="#bcdff0" stroke="#5fb3d9" stroke-width="1.2"/>
<text x="188.3" y="553.9" font-size="7.85" text-anchor="start" fill="#111">Female−Folate vs Female−Control</text>
<text x="188.3" y="569.9" font-size="7.85" text-anchor="start" fill="#111">Male−Folate vs Male−Control</text>
<circle cx="376.3" cy="489.7" r="55.8" fill="#d3be87"/>
<circle cx="438.5" cy="490.1" r="34.5" fill="#79bfe1" fill-opacity="0.5" stroke="#5fb3d9" stroke-width="1.3"/>
<circle cx="376.3" cy="489.7" r="55.8" fill="none" stroke="#b38b2b" stroke-width="1.3"/>
<text x="364.1" y="492.6" font-size="10.3" text-anchor="middle" fill="#111">471</text>
<text x="418.7" y="492.6" font-size="10.3" text-anchor="middle" fill="#111">63</text>
<text x="454" y="492.6" font-size="10.3" text-anchor="middle" fill="#111">136</text>
<rect x="324.9" y="545.6" width="12.4" height="12.4" fill="#d3be87" stroke="#b38b2b" stroke-width="1.2"/>
<rect x="324.9" y="562" width="12.4" height="12.4" fill="#bcdff0" stroke="#5fb3d9" stroke-width="1.2"/>
<text x="341" y="555.6" font-size="7.85" text-anchor="start" fill="#111">Female−Folate vs Female−Control</text>
<text x="341" y="571.6" font-size="7.85" text-anchor="start" fill="#111">Male−Folate vs Male−Control</text>
<line x1="396.6" y1="604.8" x2="428.6" y2="604.8" stroke="#ebebeb" stroke-width="0.8"/>
<line x1="396.6" y1="615.145" x2="428.6" y2="615.145" stroke="#ebebeb" stroke-width="0.8"/>
<line x1="396.6" y1="625.49" x2="428.6" y2="625.49" stroke="#ebebeb" stroke-width="0.8"/>
<line x1="396.6" y1="635.835" x2="428.6" y2="635.835" stroke="#ebebeb" stroke-width="0.8"/>
<line x1="396.6" y1="646.18" x2="428.6" y2="646.18" stroke="#ebebeb" stroke-width="0.8"/>
<line x1="396.6" y1="656.525" x2="428.6" y2="656.525" stroke="#ebebeb" stroke-width="0.8"/>
<line x1="396.6" y1="666.87" x2="428.6" y2="666.87" stroke="#ebebeb" stroke-width="0.8"/>
<line x1="396.6" y1="677.215" x2="428.6" y2="677.215" stroke="#ebebeb" stroke-width="0.8"/>
<line x1="396.6" y1="687.56" x2="428.6" y2="687.56" stroke="#ebebeb" stroke-width="0.8"/>
<line x1="396.6" y1="697.905" x2="428.6" y2="697.905" stroke="#ebebeb" stroke-width="0.8"/>
<line x1="396.6" y1="708.25" x2="428.6" y2="708.25" stroke="#ebebeb" stroke-width="0.8"/>
<line x1="396.6" y1="718.595" x2="428.6" y2="718.595" stroke="#ebebeb" stroke-width="0.8"/>
<line x1="405.3" y1="598.2" x2="405.3" y2="724.4" stroke="#ebebeb" stroke-width="0.8"/>
<line x1="420.1" y1="598.2" x2="420.1" y2="724.4" stroke="#ebebeb" stroke-width="0.8"/>
<circle cx="405.3" cy="604.8" r="3.9" fill="#e3312d"/>
<circle cx="420.1" cy="604.8" r="2.3" fill="#e3312d"/>
<line x1="393.8" y1="604.8" x2="396.6" y2="604.8" stroke="#333" stroke-width="0.9"/>
<text x="392.3" y="608" font-size="10.55" text-anchor="end" fill="#000">Regulation of neuron death</text>
<circle cx="405.3" cy="615.145" r="3.1" fill="#e3312d"/>
<circle cx="420.1" cy="615.145" r="0.9" fill="#4150b5"/>
<line x1="393.8" y1="615.145" x2="396.6" y2="615.145" stroke="#333" stroke-width="0.9"/>
<text x="392.3" y="618.345" font-size="10.55" text-anchor="end" fill="#000">Regulation of neuron apoptotic process</text>
<circle cx="405.3" cy="625.49" r="3.1" fill="#e3312d"/>
<line x1="393.8" y1="625.49" x2="396.6" y2="625.49" stroke="#333" stroke-width="0.9"/>
<text x="392.3" y="628.69" font-size="10.55" text-anchor="end" fill="#000">Positive regulation of neuron projection development</text>
<circle cx="405.3" cy="635.835" r="4.4" fill="#e3312d"/>
<circle cx="420.1" cy="635.835" r="3" fill="#e3312d"/>
<line x1="393.8" y1="635.835" x2="396.6" y2="635.835" stroke="#333" stroke-width="0.9"/>
<text x="392.3" y="639.035" font-size="10.55" text-anchor="end" fill="#000">Neuron to neuron synapse</text>
<circle cx="405.3" cy="646.18" r="3.2" fill="#e3312d"/>
<circle cx="420.1" cy="646.18" r="1.9" fill="#e3312d"/>
<line x1="393.8" y1="646.18" x2="396.6" y2="646.18" stroke="#333" stroke-width="0.9"/>
<text x="392.3" y="649.38" font-size="10.55" text-anchor="end" fill="#000">Neuron spine</text>
<circle cx="405.3" cy="656.525" r="2.8" fill="#e3312d"/>
<circle cx="420.1" cy="656.525" r="1.3" fill="#e3312d"/>
<line x1="393.8" y1="656.525" x2="396.6" y2="656.525" stroke="#333" stroke-width="0.9"/>
<text x="392.3" y="659.725" font-size="10.55" text-anchor="end" fill="#000">Neuron projection terminus</text>
<circle cx="405.3" cy="666.87" r="3.1" fill="#e3312d"/>
<circle cx="420.1" cy="666.87" r="2" fill="#e3312d"/>
<line x1="393.8" y1="666.87" x2="396.6" y2="666.87" stroke="#333" stroke-width="0.9"/>
<text x="392.3" y="670.07" font-size="10.55" text-anchor="end" fill="#000">Neuron projection guidance</text>
<circle cx="405.3" cy="677.215" r="3.1" fill="#e3312d"/>
<line x1="393.8" y1="677.215" x2="396.6" y2="677.215" stroke="#333" stroke-width="0.9"/>
<text x="392.3" y="680.415" font-size="10.55" text-anchor="end" fill="#000">Neuron projection extension</text>
<circle cx="405.3" cy="687.56" r="4.1" fill="#e3312d"/>
<circle cx="420.1" cy="687.56" r="2.3" fill="#e3312d"/>
<line x1="393.8" y1="687.56" x2="396.6" y2="687.56" stroke="#333" stroke-width="0.9"/>
<text x="392.3" y="690.76" font-size="10.55" text-anchor="end" fill="#000">Neuron death</text>
<circle cx="405.3" cy="697.905" r="3.3" fill="#e3312d"/>
<circle cx="420.1" cy="697.905" r="1.5" fill="#4150b5"/>
<line x1="393.8" y1="697.905" x2="396.6" y2="697.905" stroke="#333" stroke-width="0.9"/>
<text x="392.3" y="701.105" font-size="10.55" text-anchor="end" fill="#000">Neuron apoptotic process</text>
<circle cx="420.1" cy="708.25" r="1.9" fill="#e3312d"/>
<line x1="393.8" y1="708.25" x2="396.6" y2="708.25" stroke="#333" stroke-width="0.9"/>
<text x="392.3" y="711.45" font-size="10.55" text-anchor="end" fill="#000">Negative regulation of neuron death</text>
<circle cx="420.1" cy="718.595" r="1.1" fill="#e3312d"/>
<line x1="393.8" y1="718.595" x2="396.6" y2="718.595" stroke="#333" stroke-width="0.9"/>
<text x="392.3" y="721.795" font-size="10.55" text-anchor="end" fill="#000">Central nervous system neuron differentiation</text>
<rect x="396.6" y="598.2" width="32" height="126.2" fill="none" stroke="#555" stroke-width="1"/>
<line x1="405.3" y1="724.4" x2="405.3" y2="727.2" stroke="#333" stroke-width="0.9"/>
<line x1="420.1" y1="724.4" x2="420.1" y2="727.2" stroke="#333" stroke-width="0.9"/>
<text transform="translate(408.4 734.4) scale(1 1.14) rotate(-22)" font-size="9.2" text-anchor="end" fill="#111">Female−Folate vs Female−Control</text>
<text transform="translate(423.6 739.3) scale(1 1.14) rotate(-22)" font-size="9.2" text-anchor="end" fill="#111">Male−Folate vs Male−Control</text>
<text x="438.6" y="610.5" font-size="9.1" text-anchor="start" fill="#111">Count</text>
<circle cx="443.5" cy="619.9" r="2.1" fill="#111"/>
<text x="451.2" y="622.5" font-size="9.3" text-anchor="start" fill="#111">40</text>
<circle cx="443.5" cy="630.3" r="2.9" fill="#111"/>
<text x="451.2" y="632.9" font-size="9.3" text-anchor="start" fill="#111">60</text>
<circle cx="443.5" cy="640.4" r="3.6" fill="#111"/>
<text x="451.2" y="643" font-size="9.3" text-anchor="start" fill="#111">80</text>
<text x="438.6" y="663" font-size="9.1" text-anchor="start" fill="#111">pvalue</text>
<rect x="438.6" y="667.8" width="10.1" height="50.2" fill="url(#pv)" stroke="none" stroke-width="1"/>
<line x1="438.6" y1="672" x2="440.6" y2="672" stroke="#fff" stroke-width="0.6"/>
<line x1="446.7" y1="672" x2="448.7" y2="672" stroke="#fff" stroke-width="0.6"/>
<text x="450.8" y="675.3" font-size="9.1" text-anchor="start" fill="#111">3e−04</text>
<line x1="438.6" y1="687.6" x2="440.6" y2="687.6" stroke="#fff" stroke-width="0.6"/>
<line x1="446.7" y1="687.6" x2="448.7" y2="687.6" stroke="#fff" stroke-width="0.6"/>
<text x="450.8" y="690.9" font-size="9.1" text-anchor="start" fill="#111">2e−04</text>
<line x1="438.6" y1="703.3" x2="440.6" y2="703.3" stroke="#fff" stroke-width="0.6"/>
<line x1="446.7" y1="703.3" x2="448.7" y2="703.3" stroke="#fff" stroke-width="0.6"/>
<text x="450.8" y="706.6" font-size="9.1" text-anchor="start" fill="#111">1e−04</text>
<rect x="548.7" y="429.5" width="98.7" height="38.6" fill="#fff" stroke="#e2e2e2" stroke-width="0.9"/>
<text x="646.2" y="439.9" font-size="10.7" text-anchor="end" fill="#000">[0 - 20]</text>
<line x1="660" y1="429.5" x2="660" y2="468.1" stroke="#8a8080" stroke-width="1.2"/>
<text x="663.4" y="452.4" font-size="9.7" text-anchor="start" fill="#000">Input</text>
<rect x="548.7" y="474.4" width="98.7" height="38.2" fill="#fff" stroke="#e2e2e2" stroke-width="0.9"/>
<text x="646.2" y="484.8" font-size="10.7" text-anchor="end" fill="#000">[0 - 20]</text>
<line x1="660" y1="474.4" x2="660" y2="512.6" stroke="#8a8080" stroke-width="1.2"/>
<text x="663.4" y="497.1" font-size="9.7" text-anchor="start" fill="#000">IP</text>
<rect x="548.7" y="518.2" width="98.7" height="39.1" fill="#fff" stroke="#e2e2e2" stroke-width="0.9"/>
<text x="646.2" y="528.6" font-size="10.7" text-anchor="end" fill="#000">[0 - 20]</text>
<line x1="660" y1="518.2" x2="660" y2="557.3" stroke="#8a8080" stroke-width="1.2"/>
<text x="663.4" y="541.35" font-size="9.7" text-anchor="start" fill="#000">Input</text>
<rect x="548.7" y="563.3" width="98.7" height="38.5" fill="#fff" stroke="#e2e2e2" stroke-width="0.9"/>
<text x="646.2" y="573.7" font-size="10.7" text-anchor="end" fill="#000">[0 - 20]</text>
<line x1="660" y1="563.3" x2="660" y2="601.8" stroke="#8a8080" stroke-width="1.2"/>
<text x="663.4" y="586.15" font-size="9.7" text-anchor="start" fill="#000">IP</text>
<rect x="548.7" y="608" width="98.7" height="38.1" fill="#fff" stroke="#e2e2e2" stroke-width="0.9"/>
<text x="646.2" y="618.4" font-size="10.7" text-anchor="end" fill="#000">[0 - 62]</text>
<line x1="660" y1="608" x2="660" y2="646.1" stroke="#8a8080" stroke-width="1.2"/>
<text x="663.4" y="630.65" font-size="9.7" text-anchor="start" fill="#000">Input</text>
<rect x="548.7" y="652.5" width="98.7" height="38.1" fill="#fff" stroke="#e2e2e2" stroke-width="0.9"/>
<text x="646.2" y="662.9" font-size="10.7" text-anchor="end" fill="#000">[0 - 62]</text>
<line x1="660" y1="652.5" x2="660" y2="690.6" stroke="#8a8080" stroke-width="1.2"/>
<text x="663.4" y="675.15" font-size="9.7" text-anchor="start" fill="#000">IP</text>
<rect x="548.7" y="696.8" width="98.7" height="38.1" fill="#fff" stroke="#e2e2e2" stroke-width="0.9"/>
<text x="646.2" y="707.2" font-size="10.7" text-anchor="end" fill="#000">[0 - 62]</text>
<line x1="660" y1="696.8" x2="660" y2="734.9" stroke="#8a8080" stroke-width="1.2"/>
<text x="663.4" y="719.45" font-size="9.7" text-anchor="start" fill="#000">Input</text>
<rect x="548.7" y="741.4" width="98.7" height="37.9" fill="#fff" stroke="#e2e2e2" stroke-width="0.9"/>
<text x="646.2" y="751.8" font-size="10.7" text-anchor="end" fill="#000">[0 - 62]</text>
<line x1="660" y1="741.4" x2="660" y2="779.3" stroke="#8a8080" stroke-width="1.2"/>
<text x="663.4" y="763.95" font-size="9.7" text-anchor="start" fill="#000">IP</text>
<path d="M549.10 468.00 L549.10 463.00 L550.00 463.00 L550.00 460.70 L551.50 460.70 L551.50 459.00 L553.00 459.00 L553.00 457.80 L555.50 457.80 L555.50 457.20 L566.00 457.20 L566.00 456.30 L568.40 456.30 L568.40 455.10 L574.60 455.10 L574.60 452.50 L575.60 452.50 L575.60 438.50 L576.60 438.50 L576.60 435.20 L580.60 435.20 L580.60 437.10 L582.10 437.10 L582.10 433.30 L586.50 433.30 L586.50 436.40 L589.40 436.40 L589.40 437.30 L591.70 437.30 L591.70 439.10 L595.20 439.10 L595.20 436.40 L598.10 436.40 L598.10 448.10 L601.10 448.10 L601.10 445.80 L603.60 445.80 L603.60 451.60 L611.00 451.60 L611.00 460.10 L612.20 460.10 L612.20 467.00 L623.80 467.00 L623.80 468.00 Z" fill="#6b7493"/>
<path d="M549.10 512.30 L549.10 510.90 L570.10 510.90 L570.10 510.40 L575.60 510.40 L575.60 507.30 L593.10 507.30 L593.10 508.50 L609.20 508.50 L609.20 510.20 L611.00 510.20 L611.00 511.10 L613.90 511.10 L613.90 510.70 L621.50 510.70 L621.50 512.30 Z" fill="#4a8d3b"/>
<path d="M549.10 557.90 L549.10 545.00 L549.90 545.00 L549.90 531.00 L550.80 531.00 L550.80 522.80 L551.80 522.80 L551.80 521.10 L553.80 521.10 L553.80 520.30 L558.80 520.30 L558.80 528.10 L563.10 528.10 L563.10 529.80 L564.30 529.80 L564.30 536.90 L565.80 536.90 L565.80 552.60 L566.60 552.60 L566.60 557.00 L573.00 557.00 L573.00 556.10 L577.10 556.10 L577.10 547.10 L580.00 547.10 L580.00 543.60 L583.00 543.60 L583.00 539.20 L587.00 539.20 L587.00 535.50 L594.60 535.50 L594.60 540.10 L597.00 540.10 L597.00 542.10 L599.70 542.10 L599.70 548.00 L603.40 548.00 L603.40 547.10 L609.00 547.10 L609.00 543.60 L610.60 543.60 L610.60 557.00 L623.80 557.00 L623.80 557.90 Z" fill="#6b7493"/>
<path d="M549.10 601.90 L549.10 598.20 L552.90 598.20 L552.90 600.30 L560.00 600.30 L560.00 598.00 L561.10 598.00 L561.10 597.00 L565.80 597.00 L565.80 598.20 L571.90 598.20 L571.90 592.40 L572.80 592.40 L572.80 588.30 L574.00 588.30 L574.00 583.30 L578.90 583.30 L578.90 580.70 L580.00 580.70 L580.00 578.60 L584.10 578.60 L584.10 570.20 L585.30 570.20 L585.30 566.90 L588.80 566.90 L588.80 569.90 L590.00 569.90 L590.00 572.50 L591.10 572.50 L591.10 575.40 L592.90 575.40 L592.90 577.00 L594.10 577.00 L594.10 585.40 L595.50 585.40 L595.50 583.00 L599.30 583.00 L599.30 582.10 L602.80 582.10 L602.80 583.00 L606.90 583.00 L606.90 582.10 L610.60 582.10 L610.60 591.20 L612.20 591.20 L612.20 600.50 L612.70 600.50 L612.70 601.00 L623.80 601.00 L623.80 601.90 Z" fill="#4d69b4"/>
<path d="M549.10 645.70 L549.10 644.30 L556.10 644.30 L556.10 643.60 L568.90 643.60 L568.90 642.80 L571.30 642.80 L571.30 639.90 L573.60 639.90 L573.60 637.00 L575.60 637.00 L575.60 635.00 L577.70 635.00 L577.70 633.80 L580.00 633.80 L580.00 632.90 L586.80 632.90 L586.80 633.10 L590.00 633.10 L590.00 634.00 L592.30 634.00 L592.30 635.20 L594.60 635.20 L594.60 637.30 L596.40 637.30 L596.40 641.00 L598.10 641.00 L598.10 642.00 L603.40 642.00 L603.40 642.80 L608.60 642.80 L608.60 644.00 L611.00 644.00 L611.00 644.80 L622.10 644.80 L622.10 645.70 Z" fill="#6b7493"/>
<line x1="548.7" y1="689.6" x2="621.5" y2="689.6" stroke="#8fc487" stroke-width="1"/>
<path d="M571.80 690.00 L571.80 689.40 L573.90 686.80 L578.10 685.70 L590.80 685.70 L596.10 688.50 L609.90 688.50 L610.50 689.50 L610.50 690.00 Z" fill="#3c9a3c"/>
<path d="M549.10 734.70 L549.10 733.50 L554.30 733.50 L554.30 733.00 L571.90 733.00 L571.90 732.10 L576.00 732.10 L576.00 733.00 L578.30 733.00 L578.30 731.80 L582.10 731.80 L582.10 727.70 L583.30 727.70 L583.30 723.00 L584.70 723.00 L584.70 719.50 L586.10 719.50 L586.10 718.10 L587.00 718.10 L587.00 717.40 L591.10 717.40 L591.10 715.10 L593.10 715.10 L593.10 716.30 L596.40 716.30 L596.40 714.30 L599.30 714.30 L599.30 715.10 L602.50 715.10 L602.50 717.20 L604.00 717.20 L604.00 720.70 L605.10 720.70 L605.10 725.10 L606.90 725.10 L606.90 729.10 L612.70 729.10 L612.70 729.80 L613.90 729.80 L613.90 727.50 L615.70 727.50 L615.70 728.90 L618.00 728.90 L618.00 730.00 L619.20 730.00 L619.20 733.00 L620.70 733.00 L620.70 734.00 L631.40 734.00 L631.40 734.70 Z" fill="#6b7493"/>
<line x1="548.7" y1="778.2" x2="621.5" y2="778.2" stroke="#4d69b4" stroke-width="1"/>
<path d="M571.80 778.60 L571.80 777.80 L573.50 776.20 L578.00 775.60 L588.00 775.60 L592.00 776.40 L597.20 777.20 L599.50 776.20 L607.00 776.20 L610.90 777.50 L610.90 778.60 Z" fill="#4d69b4"/>
<rect x="548.9" y="784.2" width="61.6" height="9" fill="#2f3a9e" stroke="none" stroke-width="1"/>
<line x1="610.5" y1="788.6" x2="624.7" y2="788.6" stroke="#2f3a9e" stroke-width="1.4"/>
<text x="584" y="804.3" font-size="9.8" text-anchor="start" fill="#000">5' UTR</text>
<text x="486.6" y="793.8" font-size="11" text-anchor="start" font-style="italic" fill="#000">Sema5b</text>
<line x1="537.1" y1="429.5" x2="537.1" y2="512.6" stroke="#7a7070" stroke-width="1.2"/>
<text x="535.9" y="474.1" font-size="9.6" text-anchor="end" fill="#000">Female−Control</text>
<line x1="537.1" y1="518.2" x2="537.1" y2="601.1" stroke="#7a7070" stroke-width="1.2"/>
<text x="535.9" y="561.4" font-size="9.6" text-anchor="end" fill="#000">Female−Folate</text>
<line x1="537.1" y1="608.3" x2="537.1" y2="690.8" stroke="#7a7070" stroke-width="1.2"/>
<text x="535.9" y="653.3" font-size="9.6" text-anchor="end" fill="#000">Male−Control</text>
<line x1="537.1" y1="697.6" x2="537.1" y2="779.6" stroke="#7a7070" stroke-width="1.2"/>
<text x="535.9" y="741.3" font-size="9.6" text-anchor="end" fill="#000">Male−Folate</text>
</svg>
</body></html>
